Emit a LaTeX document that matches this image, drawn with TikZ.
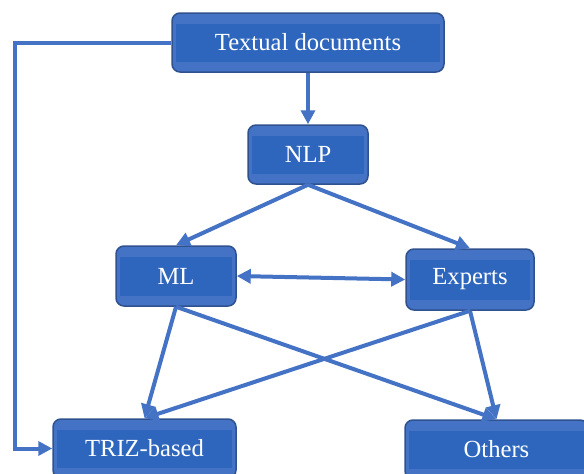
\documentclass[tikz,border=0pt]{standalone}
\usepackage{fontspec}
\setmainfont{Liberation Serif}
\usetikzlibrary{arrows.meta}

\definecolor{boxblue}{RGB}{68,114,196}
\definecolor{bandblue}{RGB}{46,102,190}
\definecolor{edgeblue}{RGB}{47,82,143}
\definecolor{linkblue}{RGB}{68,114,196}

\tikzset{
  box/.style={draw=edgeblue, line width=1.5pt, fill=boxblue, rounded corners=8pt,
    minimum height=59pt, text=white, font=\fontsize{24.6}{28}\selectfont,
    path picture={\fill[bandblue, sharp corners]
      ([xshift=4pt,yshift=10pt]path picture bounding box.south west) rectangle
      ([xshift=-4pt,yshift=-11pt]path picture bounding box.north east);}},
  link/.style={draw=linkblue, line width=4pt, -{Triangle[length=14pt,width=14pt]}}
}

\begin{document}
\begin{tikzpicture}[x=1pt,y=-1pt]
\useasboundingbox (0,0) rectangle (584,474);

\node[box, minimum width=272pt] (txt) at (308,42.5) {Textual documents};
\node[box, minimum width=120pt] (nlp) at (308,154.5) {NLP};
\node[box, minimum width=120pt, minimum height=60pt] (ml) at (176,276) {ML};
\node[box, minimum width=128pt, minimum height=61pt] (exp) at (470,279.5) {Experts};
\node[box, minimum width=183pt] (triz) at (144.5,448.5) {TRIZ-based};
\node[box, minimum width=183pt] (oth) at (496.5,449.5) {Others};

\coordinate (lft) at (15,42.5);

\draw[link] (txt.south) -- (nlp.north);
\draw[link] (txt.west) -- (lft) |- (triz.west);
\draw[link] (nlp.south) -- (ml.north);
\draw[link] (nlp.south) -- (exp.north);
\draw[link, {Triangle[length=14pt,width=14pt]}-{Triangle[length=14pt,width=14pt]}] (ml.east) -- (exp.west);
\draw[link] (ml.south) -- (triz.north);
\draw[link] (ml.south) -- (oth.north);
\draw[link] (exp.south) -- (triz.north);
\draw[link] (exp.south) -- (oth.north);

\end{tikzpicture}
\end{document}
